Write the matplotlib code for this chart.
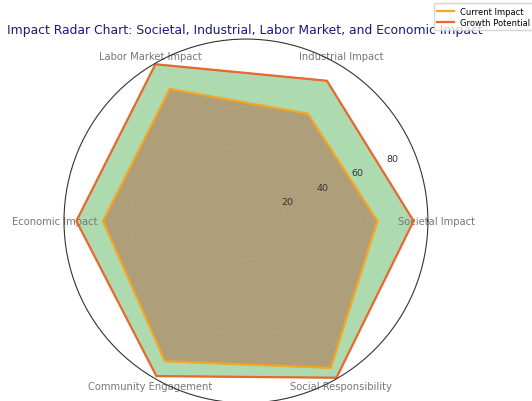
import numpy as np
import matplotlib
matplotlib.use("Agg")
import matplotlib.pyplot as plt

categories = ["Societal Impact", "Industrial Impact", "Labor Market Impact",
              "Economic Impact", "Community Engagement", "Social Responsibility"]
current_impact = [69, 65, 80, 75, 85, 89]
growth_potential = [88, 85, 95, 89, 94, 95]
radial_ticks = [20, 40, 60, 80]

n = len(categories)
angles = np.linspace(0, 2 * np.pi, n, endpoint=False).tolist()
angles_c = angles + angles[:1]
cur = current_impact + current_impact[:1]
gro = growth_potential + growth_potential[:1]

fig = plt.figure(figsize=(5.32, 4.02), dpi=100)
ax = fig.add_axes([0.1203, -0.005, 0.684, 0.9055], projection="polar")

ax.fill(angles_c, gro, color="#4CAF50", alpha=0.45)
ax.plot(angles_c, gro, color="#E8682E", linewidth=1.6, label="Growth Potential")
ax.fill(angles_c, cur, color="#B2563A", alpha=0.45)
ax.plot(angles_c, cur, color="#F5A623", linewidth=1.6, label="Current Impact")

ax.set_ylim(0, 95.5)
ax.set_xticks(angles)
ax.set_xticklabels(categories, fontsize=7.2, color="#777777")
ax.tick_params(axis="x", pad=-4)
ax.set_yticks(radial_ticks)
ax.set_yticklabels([str(t) for t in radial_ticks], fontsize=6.8, color="#333333")
ax.grid(color="#cccccc", linestyle="--", linewidth=0.6, alpha=0.15)
ax.spines["polar"].set_color("#333333")
ax.spines["polar"].set_linewidth(0.8)

fig.text(0.461, 0.924, "Impact Radar Chart: Societal, Industrial, Labor Market, and Economic Impact",
         ha="center", va="center", fontsize=8.9, color="#1a1a80")

h, l = ax.get_legend_handles_labels()
leg = fig.legend([h[1], h[0]], [l[1], l[0]], loc="upper right",
                 bbox_to_anchor=(1.011, 1.0), fontsize=6, frameon=True,
                 handlelength=2.0, borderpad=0.4, labelspacing=0.3)
leg.get_frame().set_edgecolor("#cccccc")

fig.savefig("out.png", dpi=100)
